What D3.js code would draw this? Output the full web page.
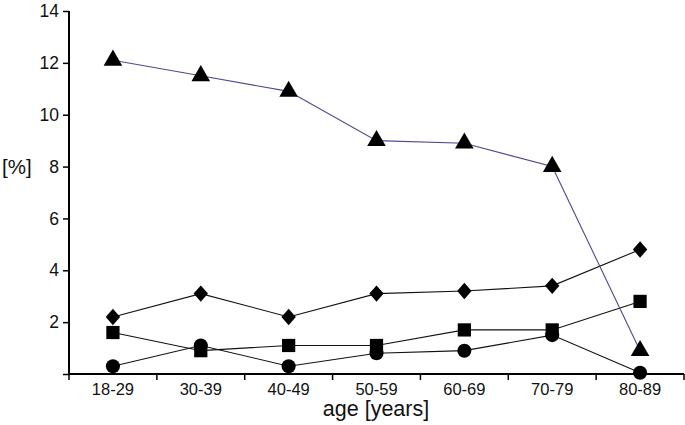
<!DOCTYPE html>
<html><head><meta charset="utf-8">
<script src="https://cdn.jsdelivr.net/npm/d3@7"></script>
<style>body{margin:0;background:#fff}svg{display:block}text{font-family:"Liberation Sans",Arial,sans-serif}</style>
</head><body>
<svg id="c" width="685" height="425"></svg>
<script>
const categories = ["18-29","30-39","40-49","50-59","60-69","70-79","80-89"];
const triangleValues = [12.1, 11.5, 10.9, 9.0, 8.9, 8.0, 0.9];
const diamondValues = [2.2, 3.1, 2.2, 3.1, 3.2, 3.4, 4.8];
const squareValues = [1.6, 0.9, 1.1, 1.1, 1.7, 1.7, 2.8];
const circleValues = [0.3, 1.1, 0.3, 0.8, 0.9, 1.5, 0.05];
const yTicks = [2,4,6,8,10,12,14];

(function(){
const svg = d3.select("#c");
const mLeft = 69, mRight = 684, mTop = 11, mBottom = 374;
const x = d3.scaleBand().domain(categories).range([mLeft, mRight]);
const y = d3.scaleLinear().domain([0,14]).range([mBottom, mTop]);
const cx = d => x(d) + x.bandwidth()/2;

const yAxis = svg.append("g").attr("transform",`translate(${mLeft},0)`)
  .call(d3.axisLeft(y).tickValues([0].concat(yTicks)).tickSize(6).tickPadding(4).tickFormat(d=>d===0?"":d));
yAxis.select(".domain").attr("d",`M0,${mTop}V${mBottom}`).attr("stroke","#000").attr("stroke-width",2);
yAxis.selectAll(".tick line").attr("stroke","#000").attr("stroke-width",1.5);
yAxis.selectAll("text").attr("font-size",17.5).attr("fill","#111");

const xAxis = svg.append("g").attr("transform",`translate(0,${mBottom})`)
  .call(d3.axisBottom(x).tickSize(0).tickPadding(9));
xAxis.select(".domain").attr("d",`M${mLeft},0H${mRight}`).attr("stroke","#000").attr("stroke-width",2);
xAxis.selectAll("text").attr("font-size",16.5).attr("fill","#111");
const bounds = categories.map(c=>x(c)).concat([mRight]);
xAxis.selectAll("line.b").data(bounds).enter().append("line").attr("class","b")
  .attr("x1",d=>d).attr("x2",d=>d).attr("y1",0).attr("y2",6).attr("stroke","#000").attr("stroke-width",1.5);

svg.append("text").attr("x",376).attr("y",416).attr("text-anchor","middle").attr("font-size",21.5).attr("fill","#111").text("age [years]");
svg.append("text").attr("x",2).attr("y",174).attr("font-size",20.5).attr("fill","#111").text("[%]");

const diamond = {draw(ctx, size){ const w=7.2, h=8.2; ctx.moveTo(0,-h); ctx.lineTo(w,0); ctx.lineTo(0,h); ctx.lineTo(-w,0); ctx.closePath(); }};
const line = d3.line().x((d,i)=>cx(categories[i])).y(d=>y(d));
const series = [
  {vals: diamondValues, sym: diamond, size: 150, color:"#111"},
  {vals: squareValues, sym: d3.symbolSquare, size: 175, color:"#111"},
  {vals: circleValues, sym: d3.symbolCircle, size: 155, color:"#111"},
  {vals: triangleValues, sym: d3.symbolTriangle, size: 150, color:"#4b4b8c"}
];
series.forEach(s=>{
  svg.append("path").attr("d",line(s.vals)).attr("fill","none").attr("stroke",s.color).attr("stroke-width",1.1);
});
series.forEach(s=>{
  svg.append("g").selectAll("path").data(s.vals).enter().append("path")
    .attr("transform",(d,i)=>`translate(${cx(categories[i])},${y(d)})`)
    .attr("d",d3.symbol().type(s.sym).size(s.size)).attr("fill","#000");
});
})();
</script>
</body></html>
